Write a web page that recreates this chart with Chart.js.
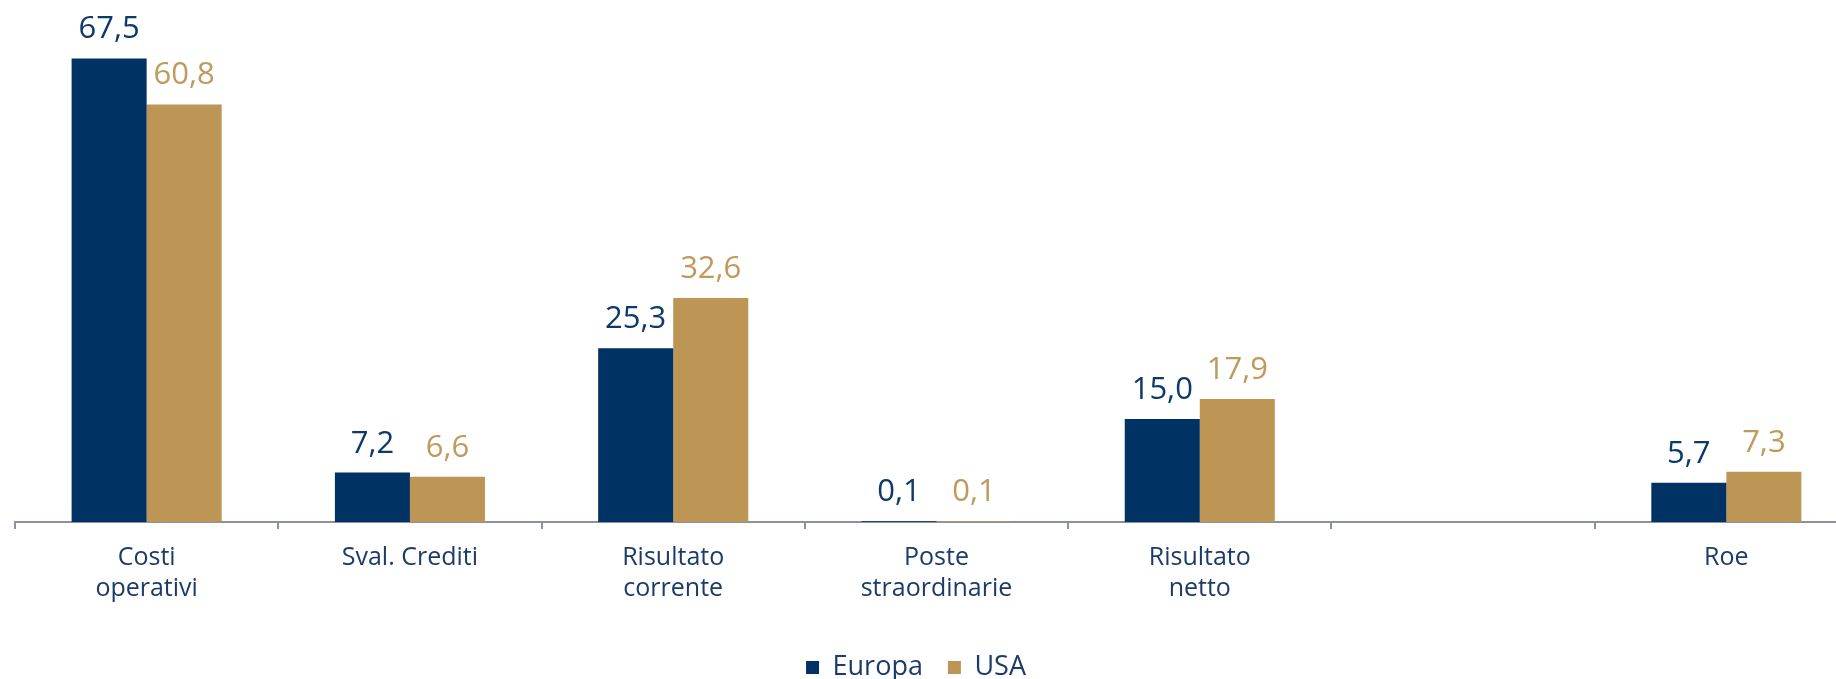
<!DOCTYPE html>
<html>
<head>
<meta charset="utf-8">
<script src="https://cdn.jsdelivr.net/npm/chart.js@4"></script>
<style>
  html, body { margin: 0; padding: 0; background: #fff; }
  #frame { width: 1836px; height: 679px; overflow: hidden; position: relative; }
  #wrap { width: 1870px; height: 691px; position: absolute; left: 0; top: 0; }
</style>
</head>
<body>
<div id="frame"><div id="wrap"><canvas id="chart"></canvas></div></div>
<script>
// categories and values
const categories = [["Costi", "operativi"], "Sval. Crediti", ["Risultato", "corrente"], ["Poste", "straordinarie"], ["Risultato", "netto"], "", "Roe"];
const europa = [67.5, 7.2, 25.3, 0.1, 15.0, null, 5.7];
const usa = [60.8, 6.6, 32.6, 0.1, 17.9, null, 7.3];

const NAVY = "#003263";
const GOLD = "#BD9555";
const FONT = "'Open Sans', sans-serif";

// values above the bars, italian decimal comma
const valueLabels = {
  id: "valueLabels",
  afterDatasetsDraw(chart) {
    const ctx = chart.ctx;
    ctx.save();
    ctx.font = "31px " + FONT;
    ctx.textAlign = "center";
    ctx.textBaseline = "alphabetic";
    chart.data.datasets.forEach((ds, i) => {
      const meta = chart.getDatasetMeta(i);
      ctx.fillStyle = ds.labelColor;
      meta.data.forEach((bar, j) => {
        const v = ds.data[j];
        if (v == null) return;
        ctx.fillText(v.toFixed(1).replace(".", ","), bar.x, bar.y - 20);
      });
    });
    ctx.restore();
  }
};

// the picture is cropped on the right, keep the legend centred on what is visible
const legendShift = {
  id: "legendShift",
  afterLayout(chart) {
    const lg = chart.legend;
    if (!lg) return;
    const dx = 916 - (lg.left + lg.right) / 2;
    lg.left += dx;
    lg.right += dx;
  }
};

new Chart(document.getElementById("chart"), {
  type: "bar",
  data: {
    labels: categories,
    datasets: [
      { label: "Europa", data: europa, backgroundColor: NAVY, labelColor: "#0E3A6A" },
      { label: "USA", data: usa, backgroundColor: GOLD, labelColor: "#C09A5C" }
    ]
  },
  options: {
    responsive: true,
    maintainAspectRatio: false,
    animation: false,
    categoryPercentage: 0.57,
    barPercentage: 1.0,
    layout: { padding: { left: 15, right: 12, top: 0, bottom: 0 } },
    scales: {
      x: {
        offset: true,
        grid: { offset: true, drawOnChartArea: false, tickLength: 7, lineWidth: 2, color: "#8C90A0" },
        border: { display: true, color: "#8C90A0", width: 2 },
        ticks: { color: "#1C3B6A", font: { family: FONT, size: 25, lineHeight: 1.22 }, padding: 14, maxRotation: 0, autoSkip: false },
        afterFit(scale) { scale.height = 107; }
      },
      y: { display: false, min: 0, max: 76 }
    },
    plugins: {
      legend: {
        position: "bottom",
        labels: { boxWidth: 13, boxHeight: 13, padding: 25, color: "#1C3B6A", font: { family: FONT, size: 27 } }
      },
      tooltip: { enabled: false }
    }
  },
  plugins: [valueLabels, legendShift]
});
</script>
</body>
</html>
